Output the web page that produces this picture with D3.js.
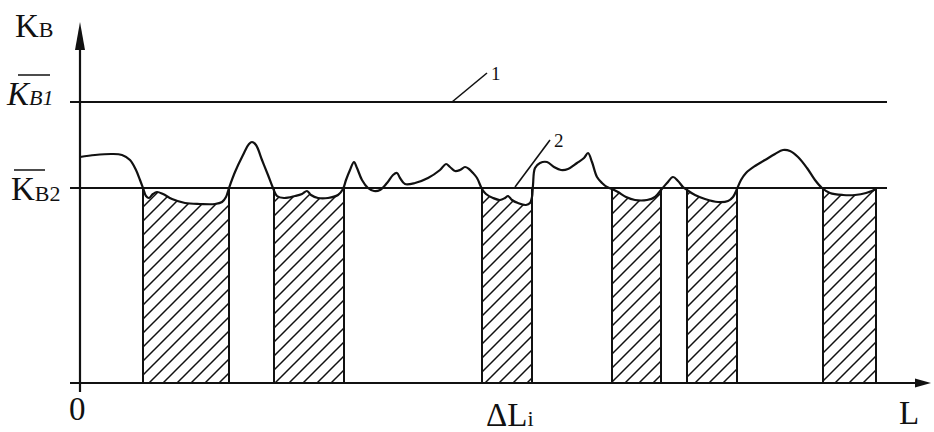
<!DOCTYPE html>
<html>
<head>
<meta charset="utf-8">
<script src="https://cdn.jsdelivr.net/npm/d3@7"></script>
<style>
  html, body { margin: 0; padding: 0; background: #fff; }
  svg { display: block; }
  text { font-family: "Liberation Serif", "Times New Roman", serif; fill: #111; }
</style>
</head>
<body>
<svg id="chart" width="934" height="432"></svg>
<script>
// Coefficient K_B along the length L (arbitrary units)
const levels = { KB1: 281, KB2: 195 };

// Measured profile: [L, K_B]
const profileL = [0, 15, 32, 42, 50, 56, 60, 63, 66, 69, 73, 77, 83, 92, 105, 120, 135, 142, 146, 149,
  155, 163, 169, 172, 176, 182, 188, 193, 197, 204, 215, 222, 227, 231, 238, 248, 258, 263, 266, 270,
  274, 277, 282, 288, 294, 300, 307, 313, 317, 320, 325, 335, 348, 360, 366, 370, 375, 380, 385, 389,
  393, 397, 402, 406, 413, 420, 425, 428, 432, 438, 446, 450, 452, 453, 455, 460, 467, 474, 481, 488,
  497, 504, 508, 512, 517, 522, 527, 532, 538, 546, 555, 567, 575, 581, 587, 593, 598, 603, 607, 615,
  625, 638, 648, 653, 657, 661, 666, 675, 685, 695, 703, 710, 718, 727, 735, 742, 750, 763, 775, 786, 796];
const profileKB = [226, 228, 229, 228, 223, 213, 203, 195, 187, 185, 189, 191, 189, 184, 180, 179, 179, 181, 186, 195,
  211, 228, 239, 241, 238, 223, 208, 195, 187, 185, 187, 189, 192, 188, 185, 185, 188, 194, 203, 213,
  221, 215, 203, 195, 192, 193, 200, 208, 210, 205, 199, 200, 205, 213, 219, 216, 212, 213, 216, 214,
  210, 205, 194, 189, 185, 183, 185, 187, 183, 180, 178, 180, 186, 198, 215, 220, 221, 216, 213, 214,
  220, 225, 230, 221, 206, 200, 196, 194, 191, 186, 183, 183, 186, 193, 200, 206, 202, 196, 193, 188,
  184, 181, 182, 186, 194, 203, 210, 217, 223, 229, 233, 232, 226, 215, 203, 195, 190, 188, 188, 190, 194];

// Stretches where K_B falls below the mean level K_B2 (ΔL_i)
const deficitStart = [63, 194, 402, 532, 607, 743];
const deficitEnd   = [149, 264, 452, 581, 657, 796];

// Curve labels: leader foot on the curve and the rise of the leader
const curveLabels = [
  { id: "1", footL: 372, footKB: levels.KB1, dx: 35, dy: 29 },
  { id: "2", footL: 435, footKB: levels.KB2 + 1, dx: 35, dy: 47 }
];

const svg = d3.select("#chart");
const x = d3.scaleLinear().domain([0, 851]).range([80, 931]);
const y = d3.scaleLinear().domain([0, 361]).range([383, 22]);
const ink = "#111";
const lw = 2.2;

const profile = profileL.map((l, i) => [l, profileKB[i]]);

// Hatch pattern
const defs = svg.append("defs");
const pat = defs.append("pattern")
  .attr("id", "hatch").attr("patternUnits", "userSpaceOnUse")
  .attr("width", 14).attr("height", 14);
pat.append("path")
  .attr("d", "M0,14 L14,0 M-3.5,3.5 L3.5,-3.5 M10.5,17.5 L17.5,10.5")
  .attr("stroke", ink).attr("stroke-width", 1.5);

const clip = defs.append("clipPath").attr("id", "deficit");
clip.selectAll("rect").data(deficitStart).join("rect")
  .attr("x", (d) => x(d))
  .attr("width", (d, i) => x(deficitEnd[i]) - x(d))
  .attr("y", y(levels.KB1)).attr("height", y(0) - y(levels.KB1));

const curve = d3.curveCatmullRom.alpha(0.5);

// Hatched area under the profile within the deficit stretches
svg.append("path")
  .datum(profile)
  .attr("clip-path", "url(#deficit)")
  .attr("fill", "url(#hatch)")
  .attr("d", d3.area().x((d) => x(d[0])).y0(y(0)).y1((d) => y(d[1])).curve(curve));

// Verticals bounding each stretch
const bounds = deficitStart.concat(deficitEnd);
svg.selectAll("line.bound").data(bounds).join("line")
  .attr("class", "bound")
  .attr("x1", (d) => x(d)).attr("x2", (d) => x(d))
  .attr("y1", y(levels.KB2)).attr("y2", y(0))
  .attr("stroke", ink).attr("stroke-width", 2);

// Level lines
svg.selectAll("line.level").data([levels.KB1, levels.KB2]).join("line")
  .attr("class", "level")
  .attr("x1", x(-10)).attr("x2", x(807))
  .attr("y1", (d) => y(d)).attr("y2", (d) => y(d))
  .attr("stroke", ink).attr("stroke-width", lw);

// Profile line
svg.append("path")
  .datum(profile)
  .attr("fill", "none").attr("stroke", ink).attr("stroke-width", lw)
  .attr("stroke-linejoin", "round")
  .attr("d", d3.line().x((d) => x(d[0])).y((d) => y(d[1])).curve(curve));

// Axes with arrows
svg.append("line").attr("x1", x(0)).attr("x2", x(0))
  .attr("y1", y(-9)).attr("y2", y(335)).attr("stroke", ink).attr("stroke-width", lw);
svg.append("path")
  .attr("d", `M${x(0)},${y(361)} L${x(0) - 5},${y(333)} L${x(0) + 5},${y(333)} Z`)
  .attr("fill", ink);
svg.append("line").attr("x1", x(-10)).attr("x2", x(838))
  .attr("y1", y(0)).attr("y2", y(0)).attr("stroke", ink).attr("stroke-width", lw);
svg.append("path")
  .attr("d", `M${x(851)},${y(0)} L${x(835)},${y(0) - 4.5} L${x(835)},${y(0) + 4.5} Z`)
  .attr("fill", ink);

// Leader lines and numbers
curveLabels.forEach((c) => {
  const fx = x(c.footL), fy = y(c.footKB);
  const tx = fx + c.dx, ty = fy - c.dy;
  svg.append("line").attr("x1", fx).attr("y1", fy).attr("x2", tx).attr("y2", ty)
    .attr("stroke", ink).attr("stroke-width", 1.6);
  svg.append("text").attr("x", tx + 4).attr("y", ty + 7)
    .attr("font-size", 19).text(c.id);
});

// Axis labels
const main = 33, sub = 22;
const kb = svg.append("text").attr("x", 15).attr("y", 37).attr("font-size", main);
kb.append("tspan").text("K");
kb.append("tspan").attr("font-size", sub).text("B");

const k1 = svg.append("text").attr("x", 7).attr("y", y(levels.KB1) + 3)
  .attr("font-size", main).attr("font-style", "italic");
k1.append("tspan").text("K");
k1.append("tspan").attr("font-size", sub).text("B1");
svg.append("line").attr("x1", 18).attr("x2", 50)
  .attr("y1", y(levels.KB1) - 27).attr("y2", y(levels.KB1) - 27)
  .attr("stroke", ink).attr("stroke-width", 1.5);

const k2 = svg.append("text").attr("x", 11).attr("y", y(levels.KB2) + 12).attr("font-size", main);
k2.append("tspan").text("K");
k2.append("tspan").attr("font-size", sub).attr("dy", 1).text("B2");
svg.append("line").attr("x1", 14).attr("x2", 45)
  .attr("y1", y(levels.KB2) - 18).attr("y2", y(levels.KB2) - 18)
  .attr("stroke", ink).attr("stroke-width", 1.5);

svg.append("text").attr("x", x(0) - 11).attr("y", 420).attr("font-size", main).text("0");

const dl = svg.append("text").attr("x", 486).attr("y", 426).attr("font-size", main);
dl.append("tspan").text("ΔL");
dl.append("tspan").attr("font-size", sub).text("i");

svg.append("text").attr("x", 899).attr("y", 424).attr("font-size", main).text("L");
</script>
</body>
</html>
